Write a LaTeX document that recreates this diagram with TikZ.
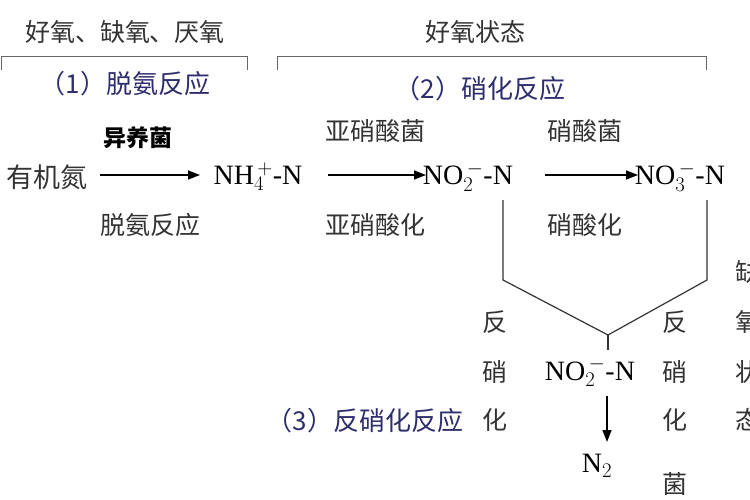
\documentclass[tikz,border=0pt]{standalone}
\usepackage{fontspec}
\setmainfont{Liberation Serif}
\newfontfamily\cjk{Noto Sans CJK SC}
\usetikzlibrary{arrows.meta}
\definecolor{hd}{HTML}{2E2E6E}
\definecolor{tx}{HTML}{333333}
\tikzset{
 lbl/.style={font=\cjk\fontsize{25}{28}\selectfont,text=tx,inner sep=0pt},
 hd/.style={font=\cjk\fontsize{26}{30}\selectfont,text=hd,inner sep=0pt},
 chem/.style={font=\fontsize{28}{30}\selectfont,text=black,inner sep=0pt},
 ln/.style={draw=black!80,line width=1.2pt},
 arr/.style={draw=black,line width=1.6pt,-{Triangle[length=12pt,width=9pt]}},
 brk/.style={draw=black!60,line width=1pt}
}
\begin{document}
\begin{tikzpicture}[x=1pt,y=-1pt]
\useasboundingbox[fill=white] (0,0) rectangle (750,500);
\node[lbl] (t1) at (125,32) {好氧、缺氧、厌氧};
\draw[brk] (1,70) -- (1,57) -- (247,57) -- (247,70);
\node[hd] (h1) at (125,84) {（1）脱氨反应};
\node[lbl] (t2) at (475,32) {好氧状态};
\draw[brk] (277,70) -- (277,57) -- (706,57) -- (706,70);
\node[hd] (h2) at (480,89) {（2）硝化反应};
\node[lbl,anchor=east,font=\cjk\fontsize{27}{30}\selectfont] (on) at (88,177) {有机氮};
\node[chem] (nh) at (258,177) {NH$_4^{\,+}$-N};
\node[chem] (no2) at (468,177) {NO$_2^{\,-}$-N};
\node[chem] (no3) at (680,177) {NO$_3^{\,-}$-N};
\draw[arr] (100,175) coordinate (a1) -- (200,175) coordinate (a2);
\draw[arr] (328,175) coordinate (b1) -- (426,175) coordinate (b2);
\draw[arr] (545,175) coordinate (c1) -- (638,175) coordinate (c2);
\node[lbl,font=\cjk\bfseries\fontsize{23}{26}\selectfont,text=black] (y1) at (138,138) {异养菌};
\node[lbl] (y2) at (150,225) {脱氨反应};
\node[lbl] (y3) at (375,131) {亚硝酸菌};
\node[lbl] (y4) at (375,225) {亚硝酸化};
\node[lbl] (y5) at (585,131) {硝酸菌};
\node[lbl] (y6) at (585,225) {硝酸化};
\coordinate (v) at (608,335);
\draw[ln] (503,200) -- (503,280) -- (v) -- (707,280) -- (707,200);
\draw[ln] (v) -- (608,350);
\node[chem] (no2b) at (590,372) {NO$_2^{\,-}$-N};
\draw[arr] (607,396) -- (607,442) coordinate (n2t);
\node[chem] (n2) at (597,466) {N$_2$};
\foreach \c/\y in {反/322,硝/372,化/420} \node[lbl] at (495,\y) {\c};
\foreach \c/\y in {反/322,硝/372,化/420,菌/484} \node[lbl] at (675,\y) {\c};
\foreach \c/\y in {缺/272,氧/322,状/372,态/420} \node[lbl] at (748,\y) {\c};
\node[hd] (h3) at (365,421) {（3）反硝化反应};
\end{tikzpicture}
\end{document}
